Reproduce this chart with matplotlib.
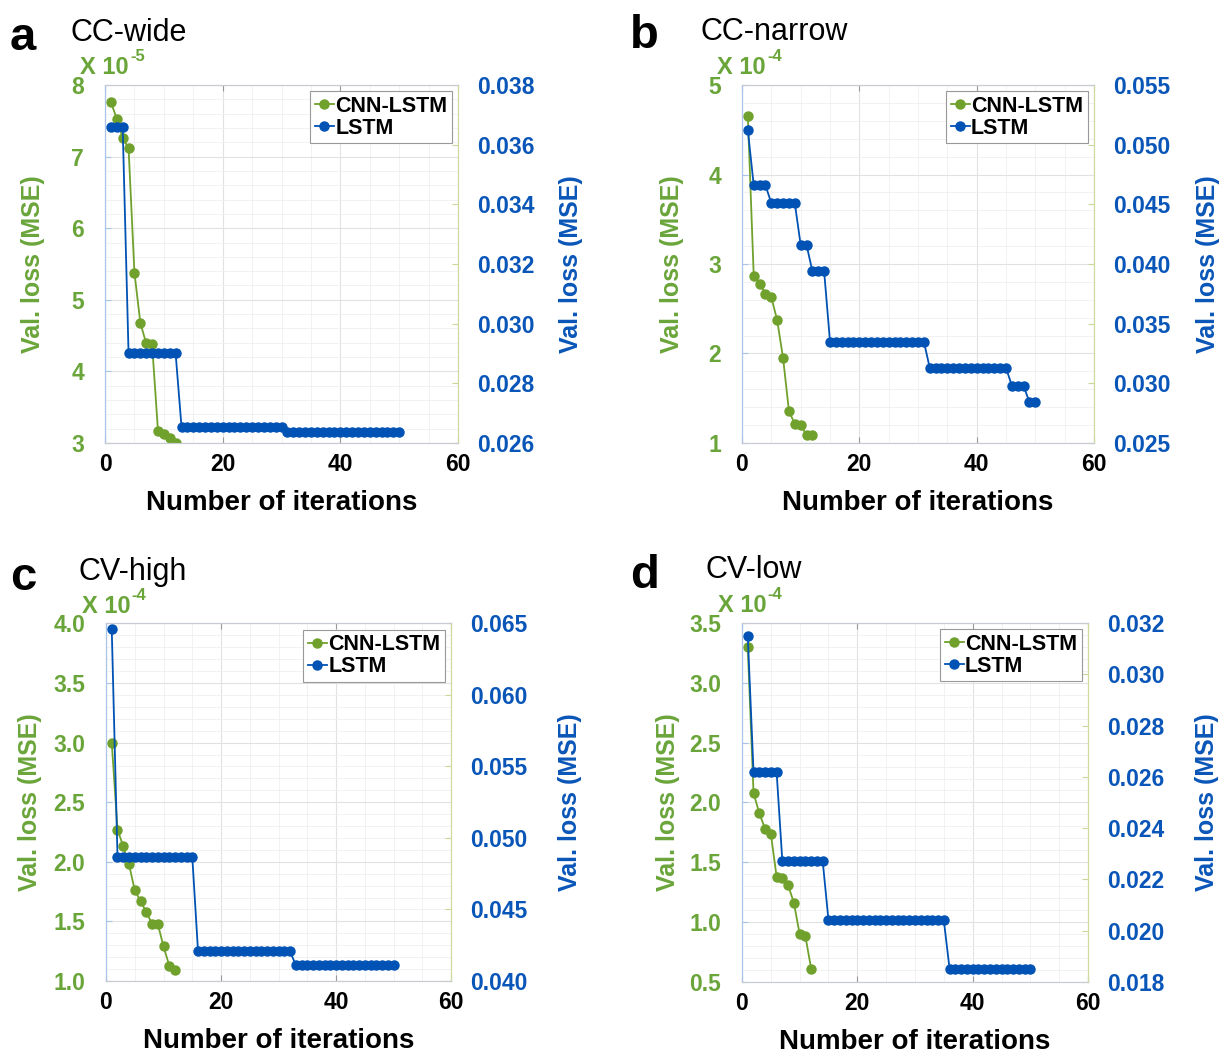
import numpy as np
import matplotlib
matplotlib.use("Agg")
import matplotlib.pyplot as plt
from matplotlib.ticker import MultipleLocator, FormatStrFormatter

plt.rcParams['font.family'] = ['Liberation Sans', 'DejaVu Sans']

GREEN = '#6fa12c'
BLUE = '#0052b4'
GREEN_TXT = '#6aa53a'
BLUE_TXT = '#0a56b8'

iters = np.arange(1, 51)
cnn_iters = np.arange(1, 13)

# CNN-LSTM validation loss (left axis, scaled units)
cnn_a = [7.76, 7.53, 7.26, 7.12, 5.38, 4.68, 4.39, 4.38, 3.17, 3.13, 3.07, 3.00]   # x 1e-5
cnn_b = [4.65, 2.87, 2.78, 2.67, 2.63, 2.37, 1.95, 1.36, 1.21, 1.20, 1.09, 1.09]   # x 1e-4
cnn_c = [3.00, 2.27, 2.13, 1.98, 1.76, 1.67, 1.58, 1.48, 1.48, 1.29, 1.13, 1.09]   # x 1e-4
cnn_d = [3.30, 2.08, 1.91, 1.78, 1.74, 1.38, 1.37, 1.31, 1.16, 0.90, 0.88, 0.61]   # x 1e-4

# LSTM validation loss (right axis) as step levels and run lengths
lstm_a_levels = [0.0366, 0.0290, 0.02655, 0.02638]
lstm_a_counts = [3, 9, 18, 20]
lstm_b_levels = [0.0512, 0.0466, 0.0451, 0.0416, 0.0394, 0.0335, 0.0313, 0.0298, 0.0284]
lstm_b_counts = [1, 3, 5, 2, 3, 17, 14, 3, 2]
lstm_c_levels = [0.0646, 0.0487, 0.0421, 0.0411]
lstm_c_counts = [1, 14, 17, 18]
lstm_d_levels = [0.0315, 0.0262, 0.0227, 0.0204, 0.0185]
lstm_d_counts = [1, 5, 8, 21, 15]

panels = [
    dict(letter='a', title='CC-wide', cnn=cnn_a, lv=lstm_a_levels, ct=lstm_a_counts,
         exp='-5', ylim=(3, 8), ystep=1, yminor=0.2, yfmt='%d',
         rlim=(0.026, 0.038), rstep=0.002, rfmt='%.3f',
         rect=[0.0858, 0.5805, 0.2884, 0.339],
         letter_px=(10, 50), title_px=(70, 41), lab_l=-0.17, lab_r=1.285),
    dict(letter='b', title='CC-narrow', cnn=cnn_b, lv=lstm_b_levels, ct=lstm_b_counts,
         exp='-4', ylim=(1, 5), ystep=1, yminor=0.2, yfmt='%d',
         rlim=(0.025, 0.055), rstep=0.005, rfmt='%.3f',
         rect=[0.6062, 0.5805, 0.2876, 0.339],
         letter_px=(630, 48), title_px=(700, 40), lab_l=-0.165, lab_r=1.29),
    dict(letter='c', title='CV-high', cnn=cnn_c, lv=lstm_c_levels, ct=lstm_c_counts,
         exp='-4', ylim=(1, 4), ystep=0.5, yminor=0.1, yfmt='%.1f',
         rect=[0.0866, 0.0710, 0.2819, 0.3387],
         rlim=(0.040, 0.065), rstep=0.005, rfmt='%.3f',
         letter_px=(10, 590), title_px=(78, 580), lab_l=-0.185, lab_r=1.31),
    dict(letter='d', title='CV-low', cnn=cnn_d, lv=lstm_d_levels, ct=lstm_d_counts,
         exp='-4', ylim=(0.5, 3.5), ystep=0.5, yminor=0.1, yfmt='%.1f',
         rlim=(0.018, 0.032), rstep=0.002, rfmt='%.3f',
         rect=[0.6062, 0.0701, 0.2827, 0.3400],
         letter_px=(630, 588), title_px=(706, 578), lab_l=-0.18, lab_r=1.31),
]

fig = plt.figure(figsize=(12.24, 10.56), dpi=100)

for p in panels:
    ax = fig.add_axes(p['rect'])
    ax2 = ax.twinx()

    l1, = ax.plot(cnn_iters, p['cnn'], '-o', color=GREEN, lw=1.3, ms=6.5,
                  label='CNN-LSTM')
    lstm = np.repeat(p['lv'], p['ct'])
    l2, = ax2.plot(iters, lstm, '-o', color=BLUE, lw=1.3, ms=6.5, label='LSTM')

    ax.set_xlim(0, 60)
    ax.set_ylim(*p['ylim'])
    ax2.set_ylim(*p['rlim'])
    ax.xaxis.set_major_locator(MultipleLocator(20))
    ax.xaxis.set_minor_locator(MultipleLocator(5))
    ax.yaxis.set_major_locator(MultipleLocator(p['ystep']))
    ax.yaxis.set_minor_locator(MultipleLocator(p['yminor']))
    ax.yaxis.set_major_formatter(FormatStrFormatter(p['yfmt']))
    ax2.yaxis.set_major_locator(MultipleLocator(p['rstep']))
    ax2.yaxis.set_major_formatter(FormatStrFormatter(p['rfmt']))

    ax.grid(True, which='major', color='#e2e2e2', lw=0.8)
    ax.grid(True, which='minor', color='#f0f0f0', lw=0.6)
    ax.set_axisbelow(True)

    ax.tick_params(axis='x', which='major', direction='in', length=4, color='#999999',
                   labelsize=16.5, pad=7, top=True)
    ax.tick_params(axis='y', which='major', direction='in', length=4, color='#a8c4e8',
                   labelsize=16.5, labelcolor=GREEN_TXT, pad=15)
    ax.tick_params(which='minor', length=0)
    ax2.tick_params(axis='y', direction='in', length=4, color='#c8d89a',
                    labelsize=16.5, labelcolor=BLUE_TXT, pad=14)
    for lab in ax.get_xticklabels() + ax.get_yticklabels() + ax2.get_yticklabels():
        lab.set_fontweight('bold')

    for a_ in (ax, ax2):
        a_.spines['top'].set_color('#c8ccd2')
        a_.spines['bottom'].set_color('#c8ccd2')
        a_.spines['left'].set_color('#a8c4e8')
        a_.spines['right'].set_color('#cddc9c')

    ax.set_xlabel('Number of iterations', fontsize=20, fontweight='bold')
    ax.xaxis.set_label_coords(0.5, -0.13)
    ax.set_ylabel('Val. loss (MSE)', fontsize=18, fontweight='bold', color=GREEN_TXT)
    ax.yaxis.set_label_coords(p['lab_l'], 0.5)
    ax2.set_ylabel('Val. loss (MSE)', fontsize=18, fontweight='bold', color=BLUE_TXT)
    ax2.yaxis.set_label_coords(p['lab_r'], 0.5)

    # MATLAB-style exponent label above the left axis
    t = ax.text(-0.07, 1.03, 'X 10', transform=ax.transAxes, fontsize=17,
                fontweight='bold', color=GREEN_TXT, va='baseline', ha='left')
    ax.annotate(p['exp'], xy=(1.0, 1.0), xycoords=t, xytext=(1, 5),
                textcoords='offset points', fontsize=12, fontweight='bold',
                color=GREEN_TXT, va='top', ha='left')

    leg = ax2.legend([l1, l2], ['CNN-LSTM', 'LSTM'], loc='upper right',
                     prop={'weight': 'bold', 'size': 15.5}, fancybox=False,
                     edgecolor='#999999', framealpha=1, borderaxespad=0.3,
                     handlelength=0.9, handletextpad=0.05, labelspacing=0.05,
                     borderpad=0.2)
    leg.get_frame().set_linewidth(0.8)

    lx, ly = p['letter_px']
    fig.text(lx / 1224, 1 - ly / 1056, p['letter'], fontsize=34, fontweight='bold',
             va='baseline')
    tx, ty = p['title_px']
    fig.text(tx / 1224, 1 - ty / 1056, p['title'], fontsize=22, va='baseline')

fig.savefig('out.png', dpi=100)
